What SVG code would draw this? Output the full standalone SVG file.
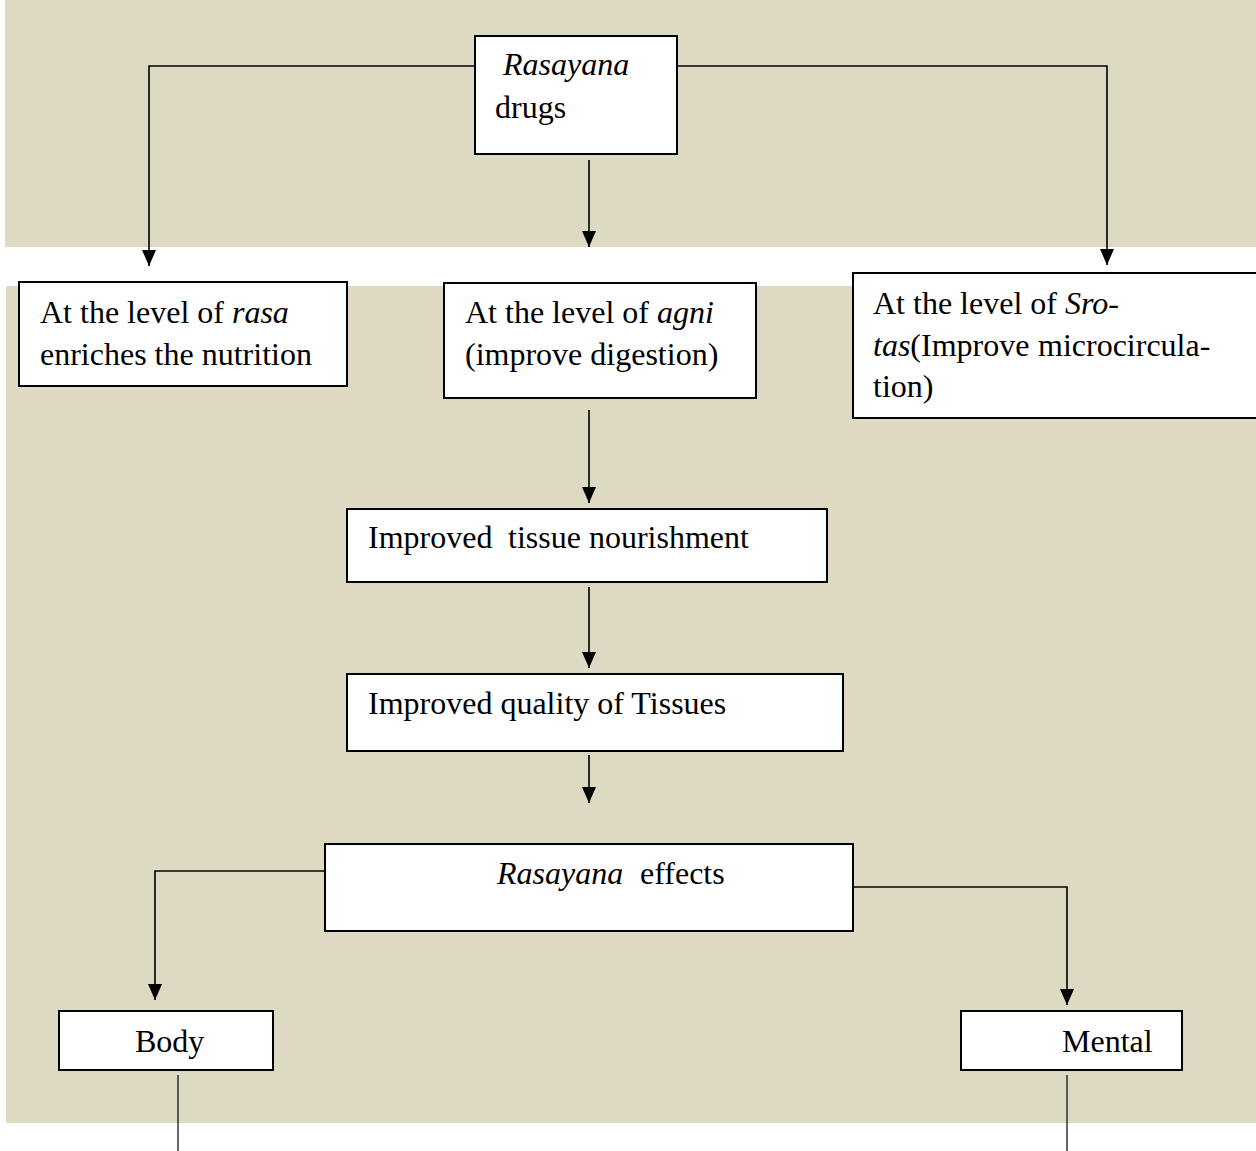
<svg xmlns="http://www.w3.org/2000/svg" width="1256" height="1151" viewBox="0 0 1256 1151">
<style>
.bg{fill:#DDD9C3}
.box{fill:#fff;stroke:#000;stroke-width:2}
.t{font-family:"Liberation Serif","Times New Roman",serif;font-size:32px;fill:#000}
.i{font-style:italic}
.c{fill:none;stroke:#000;stroke-width:1.6}
.c1{fill:none;stroke:#000;stroke-width:1.2}
</style>
<defs>
<marker id="ah" viewBox="0 0 16 14" refX="16" refY="7" markerWidth="16" markerHeight="14" markerUnits="userSpaceOnUse" orient="auto">
<path d="M0,0 L16,7 L0,14 z" fill="#000"/>
</marker>
</defs>
<rect width="1256" height="1151" fill="#fff"/>
<rect class="bg" x="5" y="0" width="1251" height="247"/>
<rect class="bg" x="6" y="286" width="1250" height="837"/>
<g id="connectors">
<polyline class="c" points="475,66 149,66 149,266" marker-end="url(#ah)"/>
<polyline class="c" points="677,66 1107,66 1107,265" marker-end="url(#ah)"/>
<line class="c" x1="589" y1="160" x2="589" y2="247" marker-end="url(#ah)"/>
<line class="c" x1="589" y1="410" x2="589" y2="503" marker-end="url(#ah)"/>
<line class="c" x1="589" y1="587" x2="589" y2="668" marker-end="url(#ah)"/>
<line class="c" x1="589" y1="755" x2="589" y2="803" marker-end="url(#ah)"/>
<polyline class="c" points="325,871 155,871 155,1000" marker-end="url(#ah)"/>
<polyline class="c" points="853,887 1067,887 1067,1005" marker-end="url(#ah)"/>
<line class="c1" x1="178" y1="1075" x2="178" y2="1151"/>
<line class="c1" x1="1067" y1="1075" x2="1067" y2="1151"/>
</g>
<g id="rasayana-drugs">
<rect class="box" x="475" y="36" width="202" height="118"/>
<text class="t i" x="503" y="75">Rasayana</text>
<text class="t" x="495" y="118">drugs</text>
</g>
<g id="rasa">
<rect class="box" x="19" y="282" width="328" height="104"/>
<text class="t" x="40" y="323">At the level of <tspan class="i">rasa</tspan></text>
<text class="t" x="40" y="365">enriches the nutrition</text>
</g>
<g id="agni">
<rect class="box" x="444" y="283" width="312" height="115"/>
<text class="t" x="465" y="323">At the level of <tspan class="i">agni</tspan></text>
<text class="t" x="465" y="365">(improve digestion)</text>
</g>
<g id="srotas">
<rect class="box" x="853" y="273" width="410" height="145"/>
<text class="t" x="873" y="314">At the level of <tspan class="i">Sro-</tspan></text>
<text class="t" x="873" y="356"><tspan class="i">tas</tspan>(Improve<tspan x="1038">microcircula-</tspan></text>
<text class="t" x="873" y="397">tion)</text>
</g>
<g id="tissue-nourishment">
<rect class="box" x="347" y="509" width="480" height="73"/>
<text class="t" x="368" y="548">Improved<tspan x="508">tissue nourishment</tspan></text>
</g>
<g id="tissue-quality">
<rect class="box" x="347" y="674" width="496" height="77"/>
<text class="t" x="368" y="714">Improved quality of Tissues</text>
</g>
<g id="rasayana-effects">
<rect class="box" x="325" y="844" width="528" height="87"/>
<text class="t" x="497" y="884"><tspan class="i">Rasayana</tspan><tspan x="640">effects</tspan></text>
</g>
<g id="body">
<rect class="box" x="59" y="1011" width="214" height="59"/>
<text class="t" x="135" y="1052">Body</text>
</g>
<g id="mental">
<rect class="box" x="961" y="1011" width="221" height="59"/>
<text class="t" x="1062" y="1052">Mental</text>
</g>
</svg>
